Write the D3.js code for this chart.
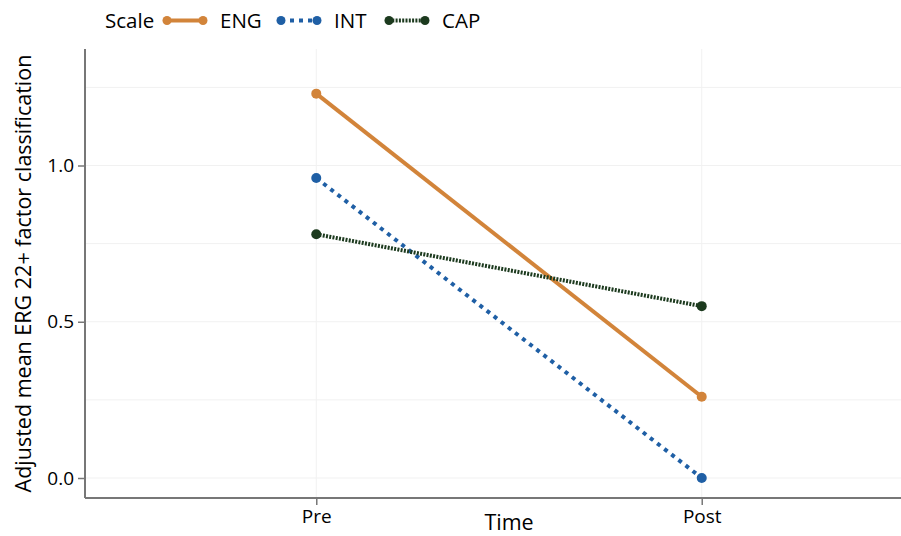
<!DOCTYPE html>
<html>
<head>
    <script src="https://d3js.org/d3.v7.min.js"></script>
    <style>
        body { margin: 0; background: #fff; }
        text { font-family: "Open Sans", sans-serif; fill: #000; }
        .tick text { font-size: 19px; }
        .grid line { stroke: #f1f1f1; stroke-width: 1; }
    </style>
</head>
<body>
    <svg width="901" height="536"></svg>

    <script>
        const times = ["Pre", "Post"];
        const scales = ["ENG", "INT", "CAP"];
        const eng = [1.23, 0.26];
        const intg = [0.96, 0.0];
        const cap = [0.78, 0.55];
        const yTicks = [0.0, 0.5, 1.0];
        const yMinor = [0.25, 0.75, 1.25];

        const series = [
            { name: "ENG", values: eng, color: "#d2843a", dash: null },
            { name: "INT", values: intg, color: "#1f5fa5", dash: "4,5" },
            { name: "CAP", values: cap, color: "#1c3a1e", dash: "2,1.3" }
        ];

        const svg = d3.select("svg");
        const padL = 85, padT = 49, padB = 498;

        // panel runs past the right edge of the picture (it is cropped there)
        const x = d3.scalePoint().domain(times).range([padL, 933]).padding(0.6);
        const y = d3.scaleLinear().domain([-0.064, 1.3728]).range([padB, padT]);

        // gridlines
        const grid = svg.append("g").attr("class", "grid");
        grid.selectAll(".h")
            .data(yTicks.concat(yMinor))
            .enter().append("line")
            .attr("x1", padL).attr("x2", 901)
            .attr("y1", d => y(d)).attr("y2", d => y(d));
        grid.selectAll(".v")
            .data(times)
            .enter().append("line")
            .attr("x1", d => x(d)).attr("x2", d => x(d))
            .attr("y1", padT).attr("y2", padB);

        // axes
        const yAxis = svg.append("g")
            .attr("transform", `translate(${padL},0)`)
            .call(d3.axisLeft(y).tickValues(yTicks).tickFormat(d3.format(".1f")).tickSize(7).tickPadding(4));
        const xAxis = svg.append("g")
            .attr("transform", `translate(0,${padB})`)
            .call(d3.axisBottom(x).tickSize(7).tickPadding(5));
        [yAxis, xAxis].forEach(a => {
            a.select(".domain").attr("stroke", "#777").attr("stroke-width", 2);
            a.selectAll(".tick line").attr("stroke", "#777").attr("stroke-width", 1.5);
            a.selectAll(".tick text").attr("fill", "#000");
        });
        yAxis.select(".domain").attr("d", `M0,${padT}V${padB}`);
        xAxis.select(".domain").attr("d", `M${padL},0H933`);

        // axis titles
        svg.append("text")
            .attr("x", (padL + 933) / 2).attr("y", 530)
            .attr("text-anchor", "middle")
            .style("font-size", "21.5px")
            .text("Time");
        svg.append("text")
            .attr("transform", `translate(31,${(padT + padB) / 2}) rotate(-90)`)
            .attr("text-anchor", "middle")
            .style("font-size", "21.5px")
            .text("Adjusted mean ERG 22+ factor classification");

        // lines and points
        const line = d3.line().x((d, i) => x(times[i])).y(d => y(d));
        const g = svg.append("g");
        series.forEach(s => {
            g.append("path")
                .attr("d", line(s.values))
                .attr("fill", "none")
                .attr("stroke", s.color)
                .attr("stroke-width", 4)
                .attr("stroke-dasharray", s.dash);
            g.selectAll(null)
                .data(s.values)
                .enter().append("circle")
                .attr("cx", (d, i) => x(times[i]))
                .attr("cy", d => y(d))
                .attr("r", 5)
                .attr("fill", s.color);
        });

        // legend
        const legend = svg.append("g");
        legend.append("text")
            .attr("x", 105).attr("y", 28)
            .style("font-size", "20.5px")
            .text("Scale");
        const lx = [167, 281, 389];
        series.forEach((s, i) => {
            const k = legend.append("g").attr("transform", `translate(${lx[i]},20.5)`);
            k.append("line")
                .attr("x1", 0).attr("x2", 36)
                .attr("stroke", s.color)
                .attr("stroke-width", 4)
                .attr("stroke-dasharray", s.dash);
            k.selectAll("circle")
                .data([0, 36])
                .enter().append("circle")
                .attr("cx", d => d).attr("r", 4.5)
                .attr("fill", s.color);
            k.append("text")
                .attr("x", 53).attr("y", 7.5)
                .style("font-size", "20.5px")
                .text(scales[i]);
        });
    </script>
</body>
</html>
